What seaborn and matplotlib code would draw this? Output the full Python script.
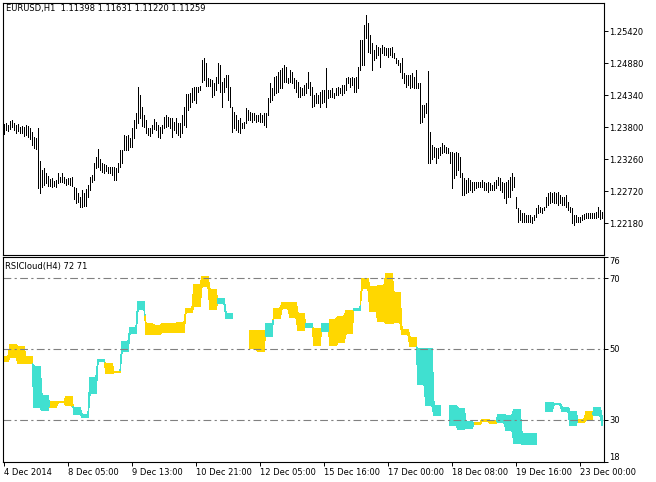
import numpy as np
import seaborn as sns
import matplotlib.pyplot as plt

# EURUSD H1 bars from 4 Dec 2014 21:00, high and low of each bar
high = [1.2386, 1.2387, 1.2384, 1.2391, 1.2393, 1.2387, 1.2384, 1.2386, 1.2381, 1.2382,
        1.2381, 1.2384, 1.2382, 1.2379, 1.2372, 1.2364, 1.2362, 1.2379, 1.2323, 1.2308,
        1.2311, 1.2303, 1.2298, 1.2293, 1.2295, 1.2290, 1.2291, 1.2303, 1.2296, 1.2303,
        1.2296, 1.2293, 1.2295, 1.2295, 1.2296, 1.2279, 1.2278, 1.2269, 1.2263, 1.2274,
        1.2269, 1.2276, 1.2283, 1.2296, 1.2300, 1.2320, 1.2330, 1.2344, 1.2327, 1.2320,
        1.2318, 1.2317, 1.2313, 1.2313, 1.2313, 1.2313, 1.2311, 1.2320, 1.2342, 1.2342,
        1.2367, 1.2365, 1.2367, 1.2362, 1.2379, 1.2393, 1.2404, 1.2448, 1.2435, 1.2414,
        1.2401, 1.2393, 1.2379, 1.2379, 1.2384, 1.2394, 1.2389, 1.2384, 1.2381, 1.2384,
        1.2398, 1.2401, 1.2398, 1.2396, 1.2396, 1.2389, 1.2396, 1.2387, 1.2387, 1.2401,
        1.2414, 1.2436, 1.2436, 1.2438, 1.2446, 1.2448, 1.2448, 1.2448, 1.2450, 1.2494,
        1.2497, 1.2489, 1.2463, 1.2462, 1.2460, 1.2455, 1.2465, 1.2489, 1.2485, 1.2457,
        1.2463, 1.2468, 1.2468, 1.2448, 1.2414, 1.2406, 1.2401, 1.2393, 1.2396, 1.2387,
        1.2389, 1.2413, 1.2409, 1.2406, 1.2404, 1.2404, 1.2401, 1.2401, 1.2404, 1.2401,
        1.2404, 1.2404, 1.2430, 1.2455, 1.2446, 1.2465, 1.2467, 1.2473, 1.2477, 1.2480,
        1.2485, 1.2482, 1.2463, 1.2477, 1.2473, 1.2463, 1.2460, 1.2457, 1.2448, 1.2446,
        1.2452, 1.2455, 1.2473, 1.2457, 1.2448, 1.2435, 1.2438, 1.2435, 1.2440, 1.2443,
        1.2443, 1.2480, 1.2443, 1.2443, 1.2446, 1.2438, 1.2446, 1.2448, 1.2446, 1.2452,
        1.2452, 1.2463, 1.2465, 1.2463, 1.2465, 1.2463, 1.2465, 1.2482, 1.2527, 1.2527,
        1.2553, 1.2570, 1.2556, 1.2536, 1.2522, 1.2511, 1.2519, 1.2516, 1.2514, 1.2519,
        1.2516, 1.2514, 1.2514, 1.2514, 1.2516, 1.2506, 1.2497, 1.2494, 1.2489, 1.2497,
        1.2472, 1.2468, 1.2468, 1.2468, 1.2472, 1.2465, 1.2477, 1.2455, 1.2455, 1.2418,
        1.2418, 1.2421, 1.2475, 1.2372, 1.2350, 1.2347, 1.2345, 1.2345, 1.2347, 1.2354,
        1.2350, 1.2347, 1.2345, 1.2339, 1.2339, 1.2337, 1.2339, 1.2337, 1.2330, 1.2303,
        1.2295, 1.2291, 1.2295, 1.2291, 1.2288, 1.2288, 1.2288, 1.2288, 1.2288, 1.2291,
        1.2288, 1.2286, 1.2288, 1.2286, 1.2283, 1.2288, 1.2291, 1.2296, 1.2295, 1.2288,
        1.2286, 1.2288, 1.2291, 1.2296, 1.2303, 1.2296, 1.2263, 1.2244, 1.2241, 1.2236,
        1.2236, 1.2232, 1.2232, 1.2232, 1.2229, 1.2232, 1.2244, 1.2249, 1.2246, 1.2244,
        1.2246, 1.2263, 1.2269, 1.2271, 1.2269, 1.2271, 1.2269, 1.2271, 1.2266, 1.2263,
        1.2263, 1.2266, 1.2254, 1.2246, 1.2244, 1.2232, 1.2232, 1.2229, 1.2229, 1.2232,
        1.2234, 1.2236, 1.2236, 1.2236, 1.2236, 1.2236, 1.2237, 1.2246, 1.2241, 1.2237]

low = [1.2369, 1.2376, 1.2374, 1.2377, 1.2381, 1.2376, 1.2371, 1.2374, 1.2371, 1.2371,
       1.2365, 1.2367, 1.2364, 1.2360, 1.2350, 1.2345, 1.2344, 1.2278, 1.2269, 1.2279,
       1.2283, 1.2286, 1.2281, 1.2281, 1.2279, 1.2281, 1.2279, 1.2286, 1.2288, 1.2288,
       1.2286, 1.2283, 1.2284, 1.2283, 1.2281, 1.2259, 1.2252, 1.2254, 1.2246, 1.2246,
       1.2247, 1.2247, 1.2263, 1.2274, 1.2288, 1.2291, 1.2311, 1.2313, 1.2308, 1.2305,
       1.2303, 1.2306, 1.2303, 1.2303, 1.2300, 1.2291, 1.2291, 1.2305, 1.2313, 1.2320,
       1.2342, 1.2342, 1.2342, 1.2347, 1.2347, 1.2362, 1.2379, 1.2387, 1.2396, 1.2382,
       1.2381, 1.2371, 1.2367, 1.2365, 1.2371, 1.2377, 1.2376, 1.2364, 1.2362, 1.2371,
       1.2379, 1.2381, 1.2382, 1.2379, 1.2364, 1.2376, 1.2371, 1.2367, 1.2364, 1.2371,
       1.2384, 1.2381, 1.2409, 1.2414, 1.2423, 1.2426, 1.2421, 1.2440, 1.2443, 1.2457,
       1.2460, 1.2450, 1.2450, 1.2450, 1.2431, 1.2435, 1.2443, 1.2455, 1.2440, 1.2414,
       1.2440, 1.2448, 1.2426, 1.2414, 1.2372, 1.2379, 1.2376, 1.2372, 1.2371, 1.2379,
       1.2379, 1.2387, 1.2393, 1.2393, 1.2389, 1.2393, 1.2389, 1.2391, 1.2389, 1.2389,
       1.2384, 1.2381, 1.2401, 1.2423, 1.2426, 1.2435, 1.2438, 1.2440, 1.2446, 1.2446,
       1.2457, 1.2457, 1.2455, 1.2457, 1.2455, 1.2446, 1.2440, 1.2431, 1.2431, 1.2435,
       1.2435, 1.2438, 1.2446, 1.2435, 1.2414, 1.2416, 1.2421, 1.2421, 1.2414, 1.2421,
       1.2423, 1.2414, 1.2430, 1.2431, 1.2431, 1.2430, 1.2435, 1.2435, 1.2438, 1.2435,
       1.2438, 1.2443, 1.2455, 1.2448, 1.2452, 1.2440, 1.2440, 1.2446, 1.2477, 1.2485,
       1.2485, 1.2531, 1.2507, 1.2506, 1.2477, 1.2494, 1.2497, 1.2502, 1.2482, 1.2506,
       1.2502, 1.2502, 1.2499, 1.2502, 1.2499, 1.2497, 1.2489, 1.2485, 1.2473, 1.2463,
       1.2455, 1.2448, 1.2452, 1.2446, 1.2448, 1.2446, 1.2446, 1.2446, 1.2387, 1.2389,
       1.2398, 1.2404, 1.2320, 1.2320, 1.2327, 1.2330, 1.2320, 1.2328, 1.2333, 1.2337,
       1.2339, 1.2337, 1.2337, 1.2320, 1.2278, 1.2295, 1.2300, 1.2308, 1.2296, 1.2266,
       1.2266, 1.2269, 1.2271, 1.2274, 1.2271, 1.2274, 1.2278, 1.2279, 1.2279, 1.2279,
       1.2274, 1.2274, 1.2271, 1.2274, 1.2274, 1.2274, 1.2278, 1.2283, 1.2274, 1.2271,
       1.2261, 1.2252, 1.2263, 1.2263, 1.2274, 1.2279, 1.2244, 1.2220, 1.2224, 1.2220,
       1.2220, 1.2220, 1.2220, 1.2220, 1.2219, 1.2224, 1.2229, 1.2236, 1.2237, 1.2236,
       1.2241, 1.2246, 1.2249, 1.2252, 1.2254, 1.2252, 1.2252, 1.2249, 1.2252, 1.2249,
       1.2249, 1.2246, 1.2241, 1.2237, 1.2219, 1.2215, 1.2220, 1.2220, 1.2220, 1.2224,
       1.2225, 1.2227, 1.2227, 1.2227, 1.2227, 1.2227, 1.2227, 1.2229, 1.2225, 1.2227]

# RSICloud(H4): one value per H4 bar, nan where the cloud is empty
rsi_main = [47.7, 51.1, 50.5, 47.7, 33.6, 32.5, 35.2, 35.0, 36.4, 31.5,
            30.7, 37.5, 46.4, 45.9, 43.5, 49.3, 54.4, 61.3, 57.2, 56.7,
            57.0, 57.2, 57.5, 61.5, 68.1, 70.4, 66.7, 63.0, 58.7, np.nan,
            np.nan, 55.2, 55.2, 53.5, 61.5, 63.0, 63.2, 60.1, 56.1, 55.8,
            55.0, 58.4, 59.2, 60.7, 61.0, 69.8, 67.5, 67.8, 71.2, 65.8,
            55.5, 53.2, 40.1, 34.1, 31.2, np.nan, 28.4, 27.3, 27.6, 29.0,
            30.1, 29.6, 29.2, 27.0, 23.3, 23.1, 23.1, np.nan, 32.3, 34.3,
            32.3, 28.4, 30.1, 32.1, 31.2, 28.5]
rsi_signal = [46.5, 47.7, 46.0, 45.9, 45.1, 36.7, 33.6, 34.8, 33.9, 33.5,
              31.4, 41.9, 47.0, 43.0, 43.3, 52.1, 56.1, 63.5, 54.1, 54.1,
              54.7, 54.7, 54.7, 60.4, 62.1, 67.8, 61.2, 64.1, 60.1, np.nan,
              np.nan, 50.2, 49.3, 57.0, 58.7, 61.5, 59.0, 55.2, 57.2, 51.0,
              57.0, 51.0, 51.8, 54.4, 61.5, 67.0, 60.7, 57.8, 57.2, 57.5,
              54.1, 50.7, 50.0, 50.0, 33.8, np.nan, 34.0, 33.2, 29.5, 28.7,
              29.4, 29.0, 31.5, 31.2, 32.9, 26.1, 26.1, np.nan, 34.9, 34.6,
              33.5, 32.3, 29.2, 29.8, 33.5, 31.0]

price_ticks = [1.25420, 1.24880, 1.24340, 1.23800, 1.23260, 1.22720, 1.22180]
rsi_ticks = [18, 30, 50, 70, 76]
rsi_levels = [30, 50, 70]
time_labels = ['4 Dec 2014', '8 Dec 05:00', '9 Dec 13:00', '10 Dec 21:00', '12 Dec 05:00',
               '15 Dec 16:00', '17 Dec 00:00', '18 Dec 08:00', '19 Dec 16:00', '23 Dec 00:00']

sns.set_theme(style='ticks', rc={'axes.edgecolor': 'black', 'axes.linewidth': 0.8,
                                 'xtick.color': 'black', 'ytick.color': 'black',
                                 'text.color': 'black'})
plt.rcParams['font.family'] = ['DejaVu Sans']

n = len(high)
idx = np.arange(n)

# the first H4 bar only holds 3 hours, the last one has a single hour so far
per_h4 = [3] + [4] * (len(rsi_main) - 2) + [1]
main_h1 = np.repeat(rsi_main, per_h4)
signal_h1 = np.repeat(rsi_signal, per_h4)

fig = plt.figure(figsize=(6.56, 4.82), dpi=100)
ax1 = fig.add_axes([3 / 656, 1 - 255 / 482, 601 / 656, 252 / 482])
ax2 = fig.add_axes([3 / 656, 1 - 462 / 482, 601 / 656, 205 / 482])

# price bars, one pixel wide
ax1.vlines(idx, low, high, color='black', linewidth=0.6, antialiased=False)
ax1.set_xlim(-0.5, n)
ax1.set_ylim(1.21645, 1.25897)
ax1.set_xticks([])
ax1.yaxis.tick_right()
ax1.set_yticks(price_ticks)
ax1.set_yticklabels(['%.5f' % p for p in price_ticks])
ax1.tick_params(axis='y', direction='out', length=3, width=0.7, labelsize=6, pad=1)

# RSI cloud
ax2.fill_between(idx, main_h1, signal_h1, where=main_h1 >= signal_h1, interpolate=True,
                 color='#FFD700', linewidth=0.25, antialiased=False)
ax2.fill_between(idx, main_h1, signal_h1, where=main_h1 < signal_h1, interpolate=True,
                 color='#40E0D0', linewidth=0.25, antialiased=False)
for lev in rsi_levels:
    ax2.axhline(lev, color='#808080', linewidth=0.8, linestyle=(0, (7, 3, 2, 3)))
ax2.set_xlim(-0.5, n)
ax2.set_ylim(18, 76)
ax2.yaxis.tick_right()
ax2.set_yticks(rsi_ticks)
ax2.set_yticklabels([str(t) for t in rsi_ticks])
ax2.tick_params(axis='y', direction='out', length=3, width=0.7, labelsize=6, pad=1)
ylabs = ax2.get_yticklabels()
ylabs[0].set_va('bottom')
ylabs[-1].set_va('top')

ax2.set_xticks(np.arange(len(time_labels)) * 32)
ax2.set_xticklabels(time_labels)
ax2.tick_params(axis='x', direction='out', length=3, width=0.7, labelsize=6, pad=1)
for lab in ax2.get_xticklabels():
    lab.set_ha('left')

fig.text(6 / 656, 1 - 9 / 482, 'EURUSD,H1  1.11398 1.11631 1.11220 1.11259',
         fontsize=6, va='center', ha='left')
fig.text(5 / 656, 1 - 267 / 482, 'RSICloud(H4) 72 71', fontsize=6, va='center', ha='left')

fig.savefig('out.png', dpi=100)
